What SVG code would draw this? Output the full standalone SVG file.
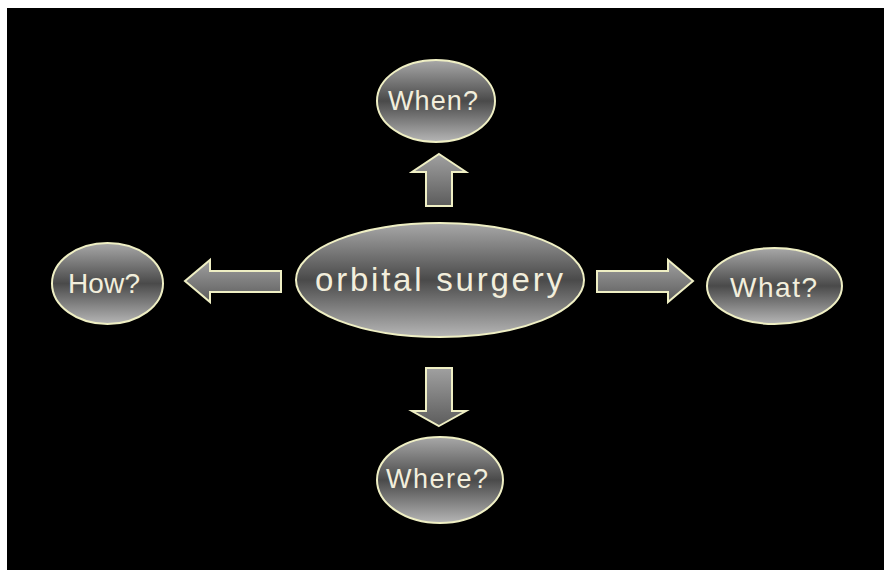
<svg xmlns="http://www.w3.org/2000/svg" width="884" height="570" viewBox="0 0 884 570">
  <style>
    .node { stroke: #efefc4; stroke-width: 2; fill: url(#ellGrad); }
    .arrow { stroke: #efefc4; stroke-width: 2; fill: url(#arrGrad); stroke-linejoin: miter; }
    .lbl { font-family: "Liberation Sans", Arial, sans-serif; fill: #f2eedc; text-anchor: start; }
  </style>
  <defs>
    <linearGradient id="ellGrad" x1="0" y1="0" x2="0" y2="1">
      <stop offset="0" stop-color="#a8a8a8"/>
      <stop offset="0.5" stop-color="#4a4a4a"/>
      <stop offset="1" stop-color="#b6b6b6"/>
    </linearGradient>
    <linearGradient id="arrGrad" x1="0" y1="0" x2="0" y2="1">
      <stop offset="0" stop-color="#a0a0a0"/>
      <stop offset="1" stop-color="#5c5c5c"/>
    </linearGradient>
  </defs>
  <rect x="0" y="0" width="884" height="570" fill="#ffffff"/>
  <rect x="7" y="8" width="877" height="562" fill="#000000"/>

  <g id="connectors">
    <polygon class="arrow" points="439,154 466,172 452,172 452,206 426,206 426,172 412,172"/>
    <polygon class="arrow" points="439,426 466,411 452,411 452,368 426,368 426,411 412,411"/>
    <polygon class="arrow" points="185,281 210,260 210,271 281,271 281,292 210,292 210,302"/>
    <polygon class="arrow" points="693,281 668,260 668,271 597,271 597,292 668,292 668,302"/>
  </g>

  <g id="center">
    <ellipse class="node" cx="440" cy="280" rx="144" ry="57"/>
    <text class="lbl" x="315" y="291" font-size="33" textLength="248" lengthAdjust="spacing">orbital surgery</text>
  </g>
  <g id="when">
    <ellipse class="node" cx="436" cy="101" rx="59" ry="41"/>
    <text class="lbl" x="388" y="110" font-size="27" textLength="90" lengthAdjust="spacing">When?</text>
  </g>
  <g id="how">
    <ellipse class="node" cx="107.5" cy="283.5" rx="55.5" ry="40.5"/>
    <text class="lbl" x="68" y="293" font-size="28" textLength="72" lengthAdjust="spacing">How?</text>
  </g>
  <g id="what">
    <ellipse class="node" cx="774.5" cy="286" rx="67.5" ry="38"/>
    <text class="lbl" x="730" y="297" font-size="28" textLength="87" lengthAdjust="spacing">What?</text>
  </g>
  <g id="where">
    <ellipse class="node" cx="440" cy="480" rx="63" ry="43"/>
    <text class="lbl" x="386" y="488" font-size="27" textLength="102" lengthAdjust="spacing">Where?</text>
  </g>
</svg>
